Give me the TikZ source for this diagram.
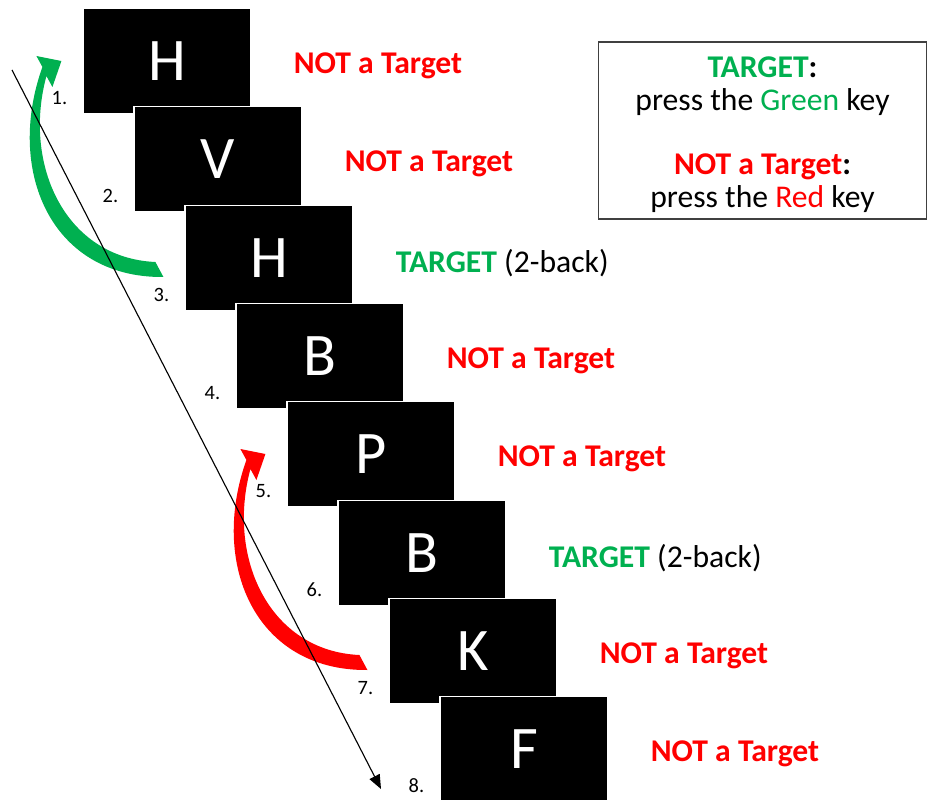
\documentclass[tikz,border=0pt]{standalone}
\usepackage{fontspec}
\setmainfont{Carlito}
\usetikzlibrary{arrows.meta,calc}
\definecolor{tgreen}{RGB}{0,176,80}
\definecolor{tred}{RGB}{255,0,0}

\tikzset{
  card/.style={fill=black, draw=white, line width=0.8pt, text=white,
    minimum width=4.2cm, minimum height=2.625cm, inner sep=0pt,
    font=\fontsize{43}{43}\selectfont},
  verdict/.style={anchor=west, inner sep=0pt, font=\fontsize{22.5}{27}\selectfont\bfseries},
  num/.style={inner sep=0pt, font=\fontsize{14.5}{17}\selectfont},
  timeline/.style={line width=0.8pt, -{Triangle[length=10pt,width=8pt]}},
  legend/.style={draw=black!75, line width=0.8pt, align=center,
    minimum width=8.2cm, minimum height=4.425cm,
    font=\fontsize{22.5}{23.4}\selectfont},
  pics/backarrow/.style={code={
    \fill[#1] (-29,4) .. controls (-119,0) and (-162,-93) .. (-138,-182)
      -- (-132,-171) -- (-123,-197) -- (-148,-202) -- (-142,-191)
      .. controls (-179,-88) and (-134,20) .. (-21,19) -- cycle;
  }}
}

\begin{document}
\begin{tikzpicture}[x=0.025cm, y=-0.025cm]

  \useasboundingbox (0,0) rectangle (928,800);

  % letter cards
  \node[card] (b1) at (167,61)  {H};
  \node[card] (b2) at (218,159) {V};
  \node[card] (b3) at (269,258) {H};
  \node[card] (b4) at (320,356) {B};
  \node[card] (b5) at (371,454) {P};
  \node[card] (b6) at (422,553) {B};
  \node[card] (b7) at (473,651) {K};
  \node[card] (b8) at (524,749) {F};

  % trial numbers
  \node[num] (n1) at ($(b1.south west)+(-23,-16)$) {1.};
  \node[num] (n2) at ($(b2.south west)+(-23,-16)$) {2.};
  \node[num] (n3) at ($(b3.south west)+(-23,-16)$) {3.};
  \node[num] (n4) at ($(b4.south west)+(-23,-16)$) {4.};
  \node[num] (n5) at ($(b5.south west)+(-23,-16)$) {5.};
  \node[num] (n6) at ($(b6.south west)+(-23,-16)$) {6.};
  \node[num] (n7) at ($(b7.south west)+(-23,-16)$) {7.};
  \node[num] (n8) at ($(b8.south west)+(-23,-16)$) {8.};

  % responses
  \node[verdict, text=tred] (v1) at ($(b1.east)+(42,5)$) {NOT a Target};
  \node[verdict, text=tred] (v2) at ($(b2.east)+(42,5)$) {NOT a Target};
  \node[verdict] (v3) at ($(b3.east)+(42,5)$) {\textcolor{tgreen}{TARGET} \mdseries(2-back)};
  \node[verdict, text=tred] (v4) at ($(b4.east)+(42,5)$) {NOT a Target};
  \node[verdict, text=tred] (v5) at ($(b5.east)+(42,5)$) {NOT a Target};
  \node[verdict] (v6) at ($(b6.east)+(42,5)$) {\textcolor{tgreen}{TARGET} \mdseries(2-back)};
  \node[verdict, text=tred] (v7) at ($(b7.east)+(42,5)$) {NOT a Target};
  \node[verdict, text=tred] (v8) at ($(b8.east)+(42,5)$) {NOT a Target};

  % 2-back links
  \pic at (b3.west) {backarrow=tgreen};
  \pic at (b7.west) {backarrow=tred};

  % time axis
  \coordinate (t0) at (12,70);
  \coordinate (t1) at (381,789);
  \draw[timeline] (t0) -- (t1);

  % instructions
  \node[legend] (key) at (762.5,130.5) {%
    \rule{0pt}{21pt}\textbf{\textcolor{tgreen}{TARGET}:}\\
    press the \textcolor{tgreen}{Green} key\\[22pt]
    \textbf{\textcolor{tred}{NOT a Target}:}\\
    press the \textcolor{tred}{Red} key};

\end{tikzpicture}
\end{document}
